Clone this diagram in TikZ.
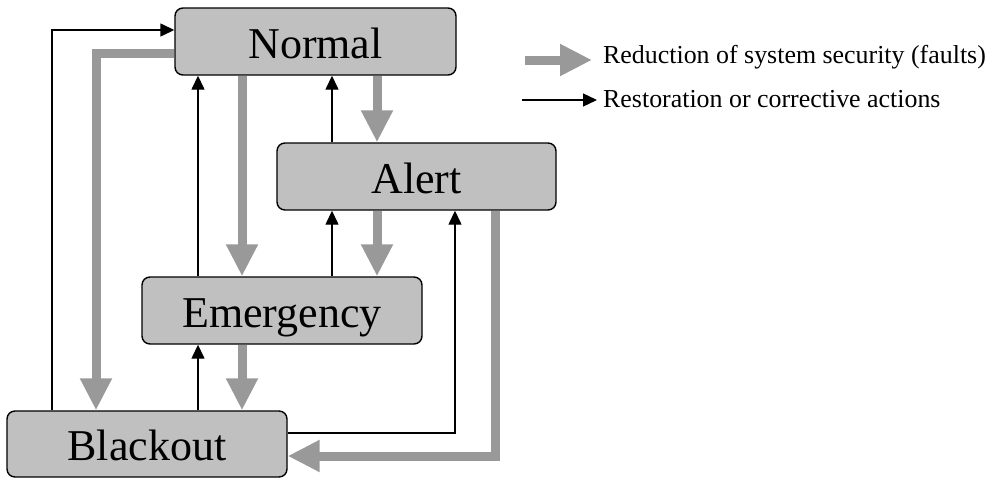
\documentclass[tikz,border=0pt]{standalone}
\usepackage{fontspec}
\setmainfont{Liberation Serif}
\usetikzlibrary{arrows.meta}
\definecolor{boxfill}{HTML}{C0C0C0}
\definecolor{faultgray}{HTML}{999999}
\tikzset{
  state/.style={draw=black, line width=1.4pt, fill=boxfill, rounded corners=8pt,
    inner sep=0pt, font=\fontsize{44}{48}\selectfont, text height=33pt, text depth=0pt},
  fault/.style={draw=faultgray, line width=9pt, line join=miter,
    -{Triangle[length=32pt,width=30pt]}},
  restore/.style={draw=black, line width=1.4pt,
    -{Triangle[length=14pt,width=13pt]}},
  legendtext/.style={anchor=base west, inner sep=0pt, font=\fontsize{25.9}{28}\selectfont}
}
\begin{document}
\begin{tikzpicture}[x=1pt,y=-1pt]
\useasboundingbox (0,0) rectangle (989,479);

% states
\node[state, minimum width=281pt, minimum height=67pt] (normal)    at (315.5,41.5) {Normal};
\node[state, minimum width=279pt, minimum height=67pt] (alert)     at (416.5,176.5) {Alert};
\node[state, minimum width=280pt, minimum height=67pt] (emergency) at (282,310.5) {Emergency};
\node[state, minimum width=280pt, minimum height=66pt] (blackout)  at (147,444) {Blackout};

% column / row helpers
\coordinate (xA) at (52,0);
\coordinate (xB) at (96,0);
\coordinate (xC) at (198,0);
\coordinate (xD) at (242,0);
\coordinate (xE) at (332,0);
\coordinate (xF) at (377,0);
\coordinate (xG) at (455,0);
\coordinate (xH) at (495,0);
\coordinate (yA) at (0,30);
\coordinate (yB) at (0,53);
\coordinate (yC) at (0,433);
\coordinate (yD) at (0,456);

% faults (gray)
\draw[fault] (normal.west |- yB) -- (xB |- yB) -- (blackout.north -| xB);
\draw[fault] (normal.south -| xD) -- (emergency.north -| xD);
\draw[fault] (normal.south -| xF) -- (alert.north -| xF);
\draw[fault] (alert.south -| xF) -- (emergency.north -| xF);
\draw[fault] (emergency.south -| xD) -- (blackout.north -| xD);
\draw[fault] (alert.south -| xH) -- (xH |- yD) -- (blackout.east |- yD);

% restoration (black)
\draw[restore] (blackout.north -| xA) -- (xA |- yA) -- (normal.west |- yA);
\draw[restore] (emergency.north -| xC) -- (normal.south -| xC);
\draw[restore] (alert.north -| xE) -- (normal.south -| xE);
\draw[restore] (emergency.north -| xE) -- (alert.south -| xE);
\draw[restore] (blackout.north -| xC) -- (emergency.south -| xC);
\draw[restore] (blackout.east |- yC) -- (xG |- yC) -- (alert.south -| xG);

% legend
\node[legendtext] (legfault) at (603,63) {Reduction of system security (faults)};
\node[legendtext] (legrest)  at (603,107) {Restoration or corrective actions};
\coordinate (lgA) at (525,60);
\coordinate (lgB) at (522,100);
\draw[fault] (lgA) -- (lgA -| 592,0);
\draw[restore] (lgB) -- (lgB -| 597,0);
\end{tikzpicture}
\end{document}
